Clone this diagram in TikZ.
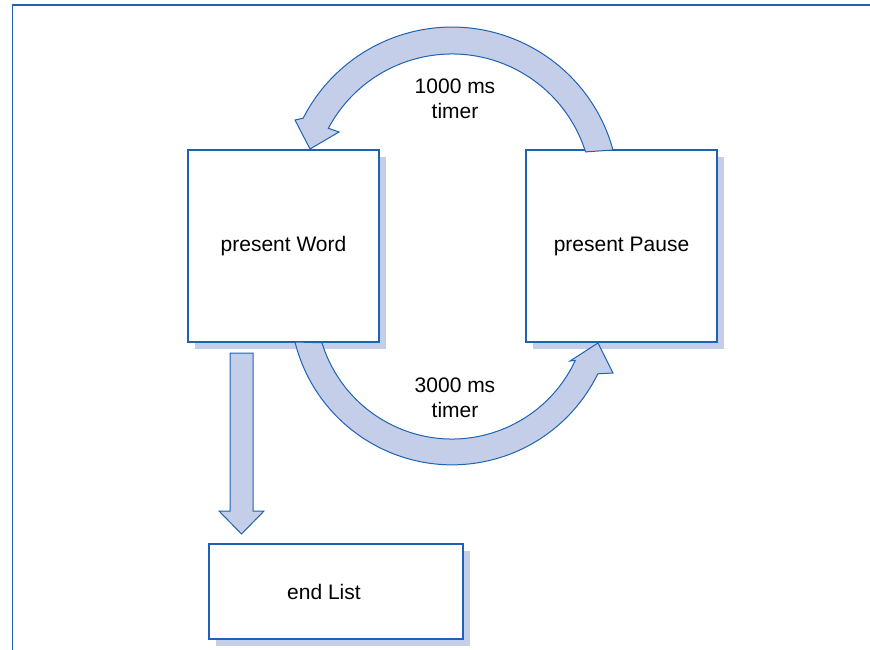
\documentclass[tikz,border=0pt]{standalone}
\usepackage{fontspec}
\setmainfont{Liberation Sans}
\usetikzlibrary{shadows}
\definecolor{edgeblue}{RGB}{30,98,178}
\definecolor{lav}{RGB}{197,206,232}
\begin{document}
\begin{tikzpicture}[x=1pt,y=1pt,
  font=\fontsize{21}{25}\selectfont,
  statebox/.style={draw=edgeblue, line width=1.3pt, fill=white, align=center,
    drop shadow={shadow xshift=7pt, shadow yshift=-7pt, fill=lav, opacity=1}},
  band/.style={draw=edgeblue, line width=1pt, fill=lav, line join=miter},
  lbl/.style={align=center, inner sep=0pt}]
\useasboundingbox (0,0) rectangle (870,-650);
% outer frame
\draw[edgeblue, line width=1.3pt] (12.5,-650) -- (12.5,-5) -- (870,-5);
% boxes
\node[statebox, minimum width=191pt, minimum height=192pt] (word) at (283.5,-246) {present Word};
\node[statebox, minimum width=191pt, minimum height=192pt] (pause) at (621.5,-246) {present Pause};
\node[statebox, minimum width=254pt, minimum height=95pt] (end) at (336,-591.5) {end List\hspace*{24pt}};
% top arc arrow (pause -> word)
\path[band] (613,-150) arc[start angle=15.3, end angle=153, radius=167]
  -- (295,-120) -- (310,-149) -- (339,-132)
  -- ([shift={(452,-194)}]152:140) arc[start angle=152, end angle=17.5, radius=140] -- cycle;
% bottom arc arrow (word -> pause)
\path[band] (295,-342) arc[start angle=194, end angle=334, radius=162]
  -- (613,-373) -- (598,-343) -- (570,-361)
  -- ([shift={(452,-303)}]335:136) arc[start angle=335, end angle=197, radius=136] -- cycle;
% down arrow (word -> end)
\path[band] (230,-353) -- (253,-353) -- (253,-511) -- (264,-511) -- (241.5,-534)
  -- (219,-511) -- (230,-511) -- cycle;
% labels
\node[lbl] (t1) at (455,-99) {1000 ms\\timer};
\node[lbl] (t2) at (455,-398) {3000 ms\\timer};
\end{tikzpicture}
\end{document}
